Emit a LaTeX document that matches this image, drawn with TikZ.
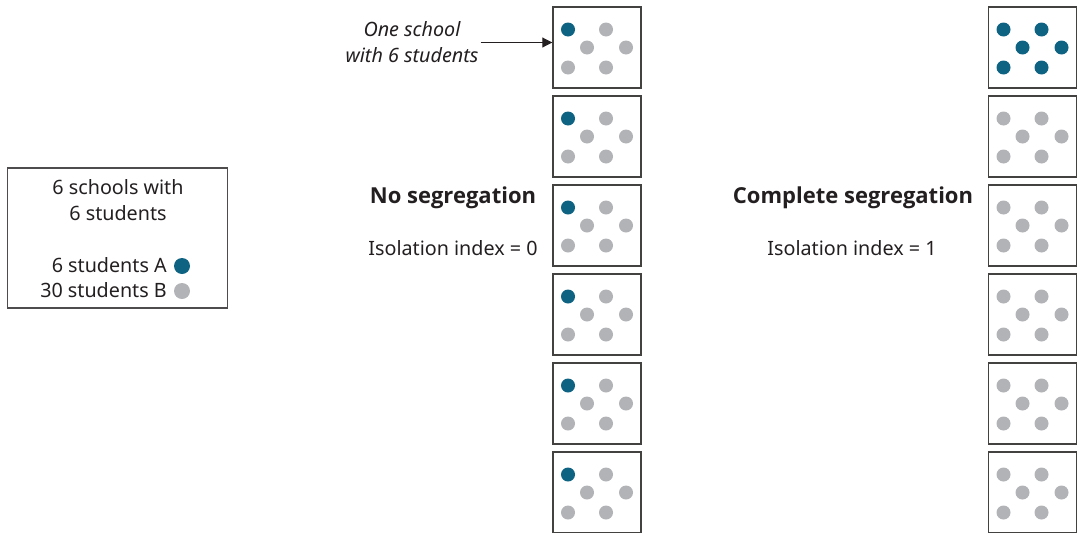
\documentclass[tikz,border=0pt]{standalone}
\usepackage{fontspec}
\setmainfont{Noto Sans}
\newfontfamily\headfont{Open Sans}
\usetikzlibrary{arrows.meta}

\definecolor{studA}{HTML}{0E6383}
\definecolor{studB}{HTML}{B2B3B7}
\definecolor{ink}{HTML}{231F20}

\tikzset{
  school/.style={draw=ink!85, line width=1.1pt, minimum width=66pt, minimum height=60.75pt, inner sep=0pt},
  legend/.style={draw=ink!80, line width=0.8pt, minimum width=165.5pt, minimum height=105pt, inner sep=0pt},
  txt/.style={text=ink, font=\fontsize{14.8}{19}\selectfont, inner sep=0pt, align=center},
  head/.style={txt, font=\headfont\fontsize{16.5}{19}\selectfont\bfseries},
}

% one school: six dots, first ones in colour A
\newcommand{\schooldots}[3]{%
  \foreach \dx/\dy [count=\k] in {-29/-17.5, 9/-17.5, -10/0.5, 29/0.5, -29/20.5, 9/20.5} {
    \ifnum\k>#3 \fill[studB] (#1+\dx, #2+\dy) circle (7);
    \else \fill[studA] (#1+\dx, #2+\dy) circle (7); \fi
  }}

\begin{document}
\begin{tikzpicture}[x=0.75pt, y=-0.75pt]
    \useasboundingbox (0,0) rectangle (1081,532);

    % Legend
    \node[legend] (leg) at (117.5,238) {};
    \node[txt, font=\fontsize{14.8}{19}\selectfont] (legtitle) at (118,200) {6 schools with\\6 students};
    \node[txt, anchor=east] (legA) at (167,265) {6 students A};
    \node[txt, anchor=east] (legB) at (167,290.5) {30 students B};
    \fill[studA] (182,266) circle (8);
    \fill[studB] (182,291) circle (8);

    % No segregation
    \foreach \i in {1,...,6} {
      \node[school] (L\i) at (597,47.5+89*\i-89) {};
      \schooldots{597}{47+89*\i-89}{1}
    }
    \node[head] (nohead) at (453,198) {No segregation};
    \node[txt] (noidx) at (453,248) {Isolation index = 0};

    % Complete segregation
    \foreach \i in {1,...,6} {
      \node[school] (R\i) at (1032.5,47.5+89*\i-89) {};
      \ifnum\i=1 \schooldots{1032.5}{47}{6}
      \else \schooldots{1032.5}{47+89*\i-89}{0} \fi
    }
    \node[head] (comphead) at (853,198) {Complete segregation};
    \node[txt] (compidx) at (852,248) {Isolation index = 1};

    % One school
    \node[txt, font=\fontsize{14.8}{19.5}\selectfont\itshape] (oneschool) at (412,42.5) {One school\\with 6 students};
    \draw[ink, line width=0.8pt, -{Triangle[length=7.5pt, width=7.5pt]}]
      ([xshift=1.5pt]oneschool.east) -- (oneschool.east -| L1.west);
\end{tikzpicture}
\end{document}
